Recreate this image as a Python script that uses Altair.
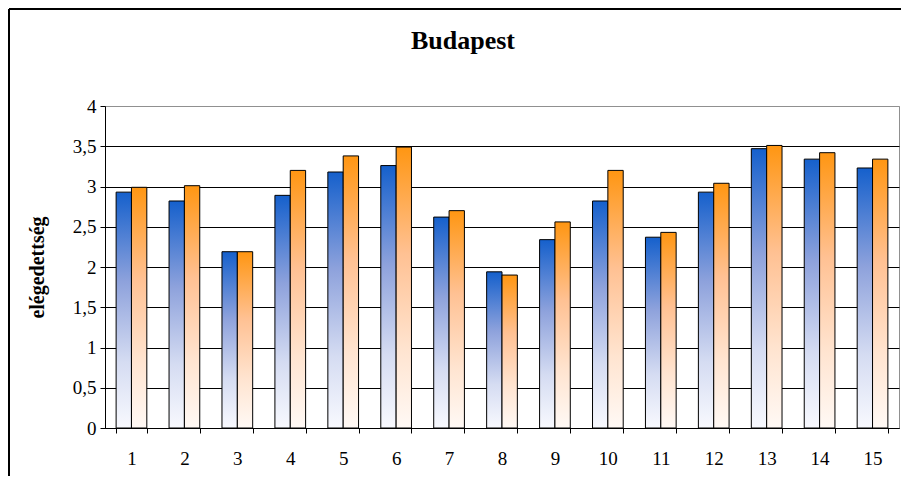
import altair as alt
import pandas as pd

categories = list(range(1, 16))
series_a = [2.93, 2.82, 2.19, 2.89, 3.18, 3.26, 2.62, 1.94, 2.34, 2.82, 2.37, 2.93, 3.47, 3.34, 3.23]
series_b = [2.99, 3.01, 2.19, 3.20, 3.38, 3.49, 2.70, 1.90, 2.56, 3.20, 2.43, 3.04, 3.51, 3.42, 3.34]
y_ticks = [0, 0.5, 1, 1.5, 2, 2.5, 3, 3.5, 4]
chart_title = "Budapest"

rows = []
for c, a, b in zip(categories, series_a, series_b):
    rows.append({"cat": c, "series": "a", "value": a})
    rows.append({"cat": c, "series": "b", "value": b})
df = pd.DataFrame(rows)

FONT = "Liberation Serif"

W, H = 794, 322
PL, PT, PR, PB = 97, 98, 2, 48

blue_grad = alt.Gradient(
    gradient="linear",
    stops=[alt.GradientStop(color="#1560cc", offset=0),
           alt.GradientStop(color="#8ea2dc", offset=0.38),
           alt.GradientStop(color="#d5dcf2", offset=0.72),
           alt.GradientStop(color="#f8f9fe", offset=1)],
    x1=0, x2=0, y1=0, y2=1,
)
orange_grad = alt.Gradient(
    gradient="linear",
    stops=[alt.GradientStop(color="#ff9612", offset=0),
           alt.GradientStop(color="#ffc193", offset=0.38),
           alt.GradientStop(color="#ffe4d0", offset=0.72),
           alt.GradientStop(color="#fff9f5", offset=1)],
    x1=0, x2=0, y1=0, y2=1,
)

x_enc = alt.X(
    "cat:O",
    title=None,
    scale=alt.Scale(paddingInner=0.42, paddingOuter=0.21),
    axis=alt.Axis(
        labelAngle=0, labelFont=FONT, labelFontSize=19, labelColor="black",
        tickBand="extent", tickSize=5, tickColor="black", domainColor="black",
        labelPadding=16, grid=False,
    ),
)
y_enc = alt.Y(
    "value:Q",
    title="elégedettség",
    scale=alt.Scale(domain=[0, 4], nice=False),
    axis=alt.Axis(
        values=y_ticks,
        labelExpr="replace(toString(datum.value), '.', ',')",
        labelFont=FONT, labelFontSize=19, labelColor="black",
        tickSize=5, tickColor="black", domainColor="black", labelPadding=4,
        titleFont=FONT, titleFontSize=20, titleFontWeight="bold", titleColor="black",
        titlePadding=25,
        grid=True,
        gridColor={"condition": {"test": "datum.value === 4", "value": "#909090"}, "value": "black"},
        gridWidth=1, gridOpacity=1,
    ),
)
xoff = alt.XOffset("series:N", scale=alt.Scale(paddingInner=0, paddingOuter=0))

base = alt.Chart(df).encode(x=x_enc, y=y_enc, xOffset=xoff)

bars_a = base.transform_filter(alt.datum.series == "a").mark_bar(
    fill=blue_grad, stroke="black", strokeWidth=1
)
bars_b = base.transform_filter(alt.datum.series == "b").mark_bar(
    fill=orange_grad, stroke="black", strokeWidth=1
)

one = pd.DataFrame({"t": [chart_title]})

# outer chart-area frame (left and top edges; right/bottom are cut off in the original)
frame_left = alt.Chart(one).mark_rule(color="black", strokeWidth=2).encode(
    x=alt.value(-PL + 1), y=alt.value(-PT + 1), y2=alt.value(H + PB)
)
frame_top = alt.Chart(one).mark_rule(color="black", strokeWidth=2).encode(
    x=alt.value(-PL + 1), x2=alt.value(W + PR), y=alt.value(-PT + 1)
)

title = alt.Chart(one).mark_text(
    font=FONT, fontSize=26, fontWeight="bold", color="black",
    align="center", baseline="alphabetic",
).encode(text="t:N", x=alt.value(358), y=alt.value(-57))

chart = alt.layer(frame_left, frame_top, bars_a, bars_b, title).properties(
    width=W,
    height=H,
    autosize="none",
    padding={"left": PL, "top": PT, "right": PR, "bottom": PB},
).configure_view(stroke="#909090", strokeWidth=1)

chart.save("out.html", embed_options={"renderer": "svg", "actions": False})
